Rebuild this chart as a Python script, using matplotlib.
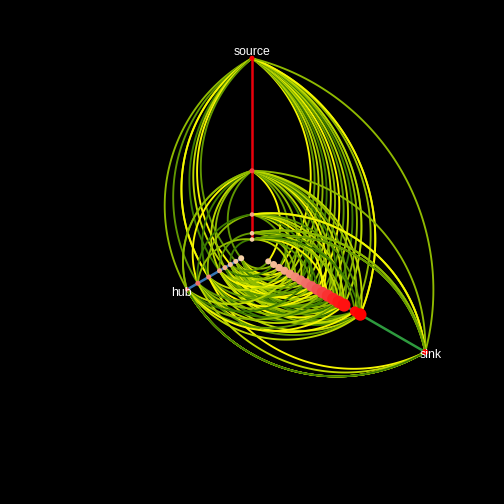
import numpy as np
import matplotlib
matplotlib.use("Agg")
import matplotlib.pyplot as plt
from matplotlib.colors import LinearSegmentedColormap

# ---------------- data ----------------
axis_names = ["source", "hub", "sink"]
axis_angles = [90, 210, 330]          # degrees
axis_colors = ["#E8000B", "#3A78B5", "#2E9A3E"]

# node radii (total edge count) per axis
source_r = [2, 3, 6, 13, 31]
source_size = [4.5, 4.5, 4.5, 5, 5]
hub_r = [2, 3, 4, 5, 6, 8, 10, 12]
hub_size = [6, 5, 5, 5, 5, 5, 5, 4]
sink_r = [3, 4, 5, 6, 7, 8, 9, 10, 11, 12, 13, 14, 15, 16, 17, 19, 20, 32]
sink_size = [6, 7, 7.5, 8, 8.5, 9, 9.5, 10, 10.5, 11, 11.5, 12, 12, 12.5, 13, 10, 12.5, 6]

# edges: (from axis, from radius, to axis, to radius, colour class)
edges = [
    # source top -> sink
    (0, 31, 2, 5, 0), (0, 31, 2, 6, 3), (0, 31, 2, 7, 1), (0, 31, 2, 8, 2),
    (0, 31, 2, 9, 4), (0, 31, 2, 10, 1), (0, 31, 2, 11, 2), (0, 31, 2, 12, 0),
    (0, 31, 2, 13, 3), (0, 31, 2, 14, 1), (0, 31, 2, 15, 4), (0, 31, 2, 16, 2),
    (0, 31, 2, 17, 4), (0, 31, 2, 17, 1), (0, 31, 2, 19, 2), (0, 31, 2, 20, 1),
    (0, 31, 2, 20, 0), (0, 31, 2, 32, 2),
    # source top -> hub
    (0, 31, 1, 12, 2), (0, 31, 1, 10, 3), (0, 31, 1, 8, 1), (0, 31, 1, 8, 0),
    (0, 31, 1, 6, 4), (0, 31, 1, 5, 1), (0, 31, 1, 4, 0), (0, 31, 1, 3, 3),
    # source 13
    (0, 13, 2, 3, 0), (0, 13, 2, 5, 3), (0, 13, 2, 7, 2), (0, 13, 2, 9, 4),
    (0, 13, 2, 10, 1), (0, 13, 2, 12, 3), (0, 13, 2, 13, 0), (0, 13, 2, 14, 2),
    (0, 13, 2, 15, 4), (0, 13, 2, 16, 1), (0, 13, 2, 17, 3), (0, 13, 2, 19, 2),
    (0, 13, 2, 20, 1), (0, 13, 2, 32, 2),
    (0, 13, 1, 2, 3), (0, 13, 1, 5, 2), (0, 13, 1, 6, 1), (0, 13, 1, 8, 4),
    (0, 13, 1, 10, 0), (0, 13, 1, 12, 3), (0, 13, 1, 12, 2),
    # source 6
    (0, 6, 2, 6, 3), (0, 6, 2, 9, 1), (0, 6, 2, 11, 4), (0, 6, 2, 13, 0),
    (0, 6, 2, 15, 2), (0, 6, 2, 17, 1), (0, 6, 2, 20, 3),
    (0, 6, 1, 8, 2), (0, 6, 1, 10, 4),
    (0, 6, 2, 32, 1), (0, 6, 2, 32, 2), (0, 6, 2, 32, 0),
    # source 3
    (0, 3, 2, 8, 2), (0, 3, 2, 12, 4), (0, 3, 2, 16, 1), (0, 3, 2, 19, 3),
    (0, 3, 2, 32, 1), (0, 3, 2, 32, 3), (0, 3, 2, 32, 2), (0, 3, 1, 6, 3),
    # source 2
    (0, 2, 2, 7, 1), (0, 2, 2, 11, 3), (0, 2, 2, 14, 0), (0, 2, 2, 17, 2),
    (0, 2, 2, 20, 4), (0, 2, 2, 32, 2), (0, 2, 2, 32, 1), (0, 2, 2, 32, 3),
    (0, 2, 1, 4, 4), (0, 2, 1, 10, 2),
    # hub -> sink
    (1, 2, 2, 4, 2), (1, 2, 2, 6, 0), (1, 2, 2, 8, 3), (1, 2, 2, 10, 1),
    (1, 2, 2, 12, 4), (1, 2, 2, 14, 3), (1, 2, 2, 16, 2), (1, 2, 2, 17, 1),
    (1, 2, 2, 19, 3),
    (1, 3, 2, 5, 1), (1, 3, 2, 7, 4), (1, 3, 2, 9, 0), (1, 3, 2, 11, 2),
    (1, 3, 2, 13, 1), (1, 3, 2, 15, 3), (1, 3, 2, 17, 4), (1, 3, 2, 20, 2),
    (1, 4, 2, 3, 3), (1, 4, 2, 6, 1), (1, 4, 2, 9, 2), (1, 4, 2, 12, 0),
    (1, 4, 2, 15, 4), (1, 4, 2, 17, 1), (1, 4, 2, 19, 3), (1, 4, 2, 20, 2),
    (1, 5, 2, 4, 4), (1, 5, 2, 8, 1), (1, 5, 2, 11, 0), (1, 5, 2, 14, 3),
    (1, 5, 2, 16, 2), (1, 5, 2, 20, 4),
    (1, 6, 2, 5, 2), (1, 6, 2, 7, 0), (1, 6, 2, 10, 3), (1, 6, 2, 13, 1),
    (1, 6, 2, 16, 4), (1, 6, 2, 17, 0), (1, 6, 2, 19, 1),
    (1, 8, 2, 6, 1), (1, 8, 2, 9, 3), (1, 8, 2, 12, 0), (1, 8, 2, 15, 2),
    (1, 8, 2, 17, 4), (1, 8, 2, 20, 1), (1, 8, 2, 32, 0),
    (1, 10, 2, 8, 3), (1, 10, 2, 11, 2), (1, 10, 2, 14, 4), (1, 10, 2, 16, 1),
    (1, 10, 2, 19, 0), (1, 10, 2, 20, 3), (1, 10, 2, 32, 1),
    (1, 12, 2, 7, 1), (1, 12, 2, 10, 4), (1, 12, 2, 13, 2), (1, 12, 2, 16, 3),
    (1, 12, 2, 17, 0), (1, 12, 2, 20, 1),
    (1, 12, 2, 32, 0), (1, 12, 2, 32, 1), (1, 12, 2, 32, 0), (1, 12, 2, 32, 2),
    (1, 12, 2, 32, 1), (1, 12, 2, 32, 4),
]

edge_palette = ["#F6F600", "#BCD800", "#8FBA00", "#609800", "#3B7A00"]

# ---------------- drawing ----------------
fig = plt.figure(figsize=(5.04, 5.04), dpi=100, facecolor="black")
ax = fig.add_axes([0, 0, 1, 1])
ax.set_facecolor("black")
half = 504 / 6.25 / 2
ax.set_xlim(-half, half)
ax.set_ylim(-half, half)
ax.set_aspect("equal")
ax.axis("off")


def pos(axis, r):
    a = np.deg2rad(axis_angles[axis])
    return np.array([r * np.cos(a), r * np.sin(a)])


def arc(axis0, r0, axis1, r1, k=0.21, n=80):
    p0 = pos(axis0, r0)
    p1 = pos(axis1, r1)
    d = p1 - p0
    L = np.hypot(*d)
    dh = d / L
    nrm = np.array([-dh[1], dh[0]])
    a0, a1 = np.deg2rad(axis_angles[axis0]), np.deg2rad(axis_angles[axis1])
    bis = np.array([np.cos(a0) + np.cos(a1), np.sin(a0) + np.sin(a1)])
    if np.dot(nrm, bis) < 0:
        nrm = -nrm
    s = k * L
    R = (L * L / 4 + s * s) / (2 * s)
    alpha = np.arcsin(min(1.0, (L / 2) / R))
    t = np.linspace(-alpha, alpha, n)
    u = R * np.sin(t)
    v = (s - R) + R * np.cos(t)
    m = (p0 + p1) / 2
    pts = m[None, :] + u[:, None] * dh[None, :] + v[:, None] * nrm[None, :]
    return pts


for a0, r0, a1, r1, c in edges:
    pts = arc(a0, r0, a1, r1)
    ax.plot(pts[:, 0], pts[:, 1], color=edge_palette[c], lw=1.35,
            solid_capstyle="round", zorder=2)

radii = [source_r, hub_r, sink_r]
sizes = [source_size, hub_size, sink_size]

for i in range(3):
    p0 = pos(i, min(radii[i]))
    p1 = pos(i, max(radii[i]))
    ax.plot([p0[0], p1[0]], [p0[1], p1[1]], color=axis_colors[i], lw=1.8,
            zorder=3, solid_capstyle="butt")

node_cmap = LinearSegmentedColormap.from_list(
    "nodes", ["#F7D3AA", "#F39E80", "#F06060", "#FF1A1A", "#FF0000"])

for i in range(3):
    rr = np.array(radii[i], dtype=float)
    pts = np.array([pos(i, r) for r in rr])
    cols = node_cmap(np.clip((rr - 2) / 18.0, 0, 1))
    ss = (np.array(sizes[i]) * 0.72) ** 2
    ax.scatter(pts[:, 0], pts[:, 1], s=ss, c=cols, edgecolors="none", zorder=4)

for i in range(3):
    lp = pos(i, max(radii[i]) + 1.0)
    ax.text(lp[0], lp[1], axis_names[i], color="white", ha="center",
            va="center", fontsize=8.8, family=["Liberation Sans", "DejaVu Sans"],
            zorder=5)

fig.savefig("out.png", dpi=100, facecolor="black")
